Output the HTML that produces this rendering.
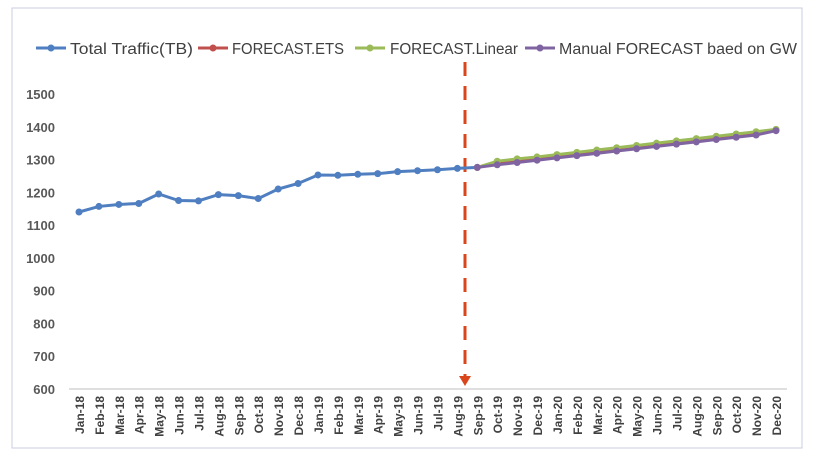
<!DOCTYPE html>
<html><head><meta charset="utf-8"><style>
body{margin:0;background:#fff;font-family:"Liberation Sans",sans-serif}
svg text{font-family:"Liberation Sans",sans-serif}
</style></head><body>
<svg id="c" width="822" height="470">
<rect x="12" y="8" width="790" height="440" fill="#fff" stroke="#c9cde0"/>
<g id="legend"></g>
<g id="yaxis"></g>
<g id="xaxis"></g>
<g id="series"></g>
</svg>
<script>
const categories=["Jan-18","Feb-18","Mar-18","Apr-18","May-18","Jun-18","Jul-18","Aug-18","Sep-18","Oct-18","Nov-18","Dec-18","Jan-19","Feb-19","Mar-19","Apr-19","May-19","Jun-19","Jul-19","Aug-19","Sep-19","Oct-19","Nov-19","Dec-19","Jan-20","Feb-20","Mar-20","Apr-20","May-20","Jun-20","Jul-20","Aug-20","Sep-20","Oct-20","Nov-20","Dec-20"];
const totalTraffic=[1140,1157,1163,1166,1195,1175,1174,1193,1190,1181,1210,1227,1253,1252,1255,1257,1263,1266,1269,1273,1276];
const forecastEts=[1276,1292,1299,1306,1313,1320,1327,1334,1341,1348,1355,1362,1369,1376,1383,1390];
const forecastLinear=[1276,1295,1302,1308,1315,1322,1329,1336,1343,1350,1357,1364,1371,1378,1385,1392];
const manualGw=[1276,1284,1291,1298,1305,1312,1319,1326,1333,1340,1347,1354,1361,1368,1375,1388];
const yTicks=[600,700,800,900,1000,1100,1200,1300,1400,1500];
const forecastStart=20;
const NS="http://www.w3.org/2000/svg";
function el(t,a,p){const e=document.createElementNS(NS,t);for(const k in a)e.setAttribute(k,a[k]);p.appendChild(e);return e;}
const x=i=>79+i*(776-79)/35;
const y=v=>389-(v-600)*(389-94)/900;
const ya=document.getElementById('yaxis'),xa=document.getElementById('xaxis'),sg=document.getElementById('series'),lg=document.getElementById('legend');
yTicks.forEach(v=>{const t=el('text',{x:55,y:y(v)+5,'text-anchor':'end','font-size':13,'font-weight':'bold',fill:'#595959'},ya);t.textContent=v;

});
const ax=el('line',{x1:69,x2:787,y1:389,y2:389,stroke:'#bfbfbf'},xa);


categories.forEach((c,i)=>{const t=el('text',{x:0,y:0,transform:`translate(${x(i)+5},396) rotate(-90)`,'text-anchor':'end','font-size':12,'font-weight':'bold',fill:'#404040'},xa);t.textContent=c;

});
const dl=el('line',{x1:465,x2:465,y1:62,y2:376,stroke:'#d9461c','stroke-width':3,'stroke-dasharray':'14,10'},sg);


const ar=el('polygon',{points:'459,376 471,376 465,386',fill:'#d9461c'},sg);


function series(vals,off,color,name){const g=el('g',{},sg);


el('polyline',{points:vals.map((v,i)=>x(i+off)+','+y(v)).join(' '),fill:'none',stroke:color,'stroke-width':3},g);
vals.forEach((v,i)=>el('circle',{cx:x(i+off),cy:y(v),r:3.5,fill:color},g));}
series(totalTraffic,0,'#4f7fc0','total-traffic-series');
series(forecastEts,forecastStart,'#c0504d','forecast-ets-series');
series(forecastLinear,forecastStart,'#9bbb59','forecast-linear-series');
series(manualGw,forecastStart,'#8064a2','manual-forecast-series');
[[36,70,'#4f7fc0','Total Traffic(TB)',123],[198,232,'#c0504d','FORECAST.ETS',112],[355,390,'#9bbb59','FORECAST.Linear',128],[525,559,'#8064a2','Manual FORECAST baed on GW',238]].forEach(([lx,tx,c,l,w])=>{
const g=el('g',{},lg);


el('line',{x1:lx,x2:lx+30,y1:48,y2:48,stroke:c,'stroke-width':3},g);
el('circle',{cx:lx+15,cy:48,r:3.5,fill:c},g);
const t=el('text',{x:tx,y:54,'font-size':15.5,fill:'#404040',textLength:w,lengthAdjust:'spacingAndGlyphs'},g);t.textContent=l;});
</script>
</body></html>
